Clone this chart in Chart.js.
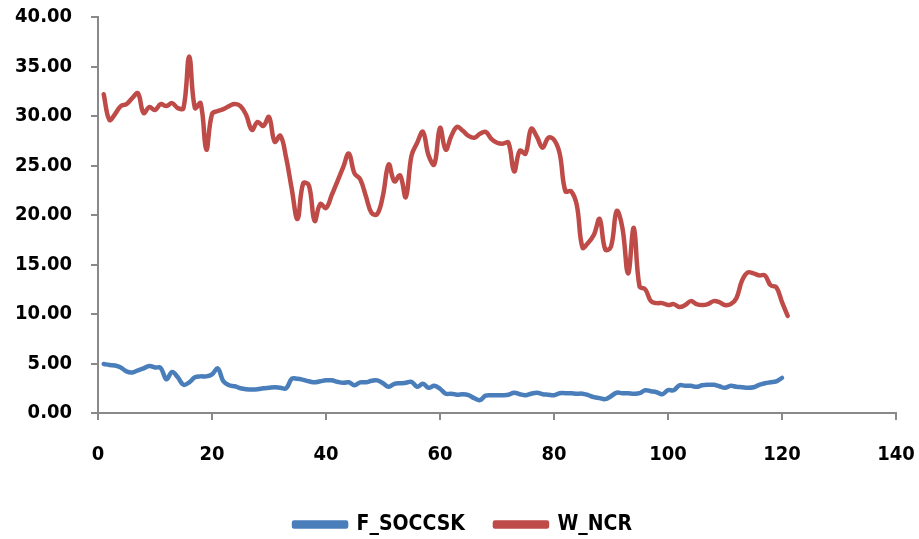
<!DOCTYPE html>
<html>
<head>
<meta charset="utf-8">
<script src="https://cdn.jsdelivr.net/npm/chart.js@4.4.0/dist/chart.umd.min.js"></script>
<style>
html, body { margin: 0; padding: 0; background: #fff; }
#wrap { width: 919px; height: 539px; }
</style>
</head>
<body>
<div id="wrap"><canvas id="chart" width="919" height="539"></canvas></div>
<script>
// series names and values (x runs 1, 2, 3 ...)
const seriesNames = ['F_SOCCSK', 'W_NCR'];
const seriesColors = ['#4A7EBB', '#BE4B48'];

const fSoccsk = [
    4.95, 4.85, 4.8, 4.6, 4.2, 4.1, 4.3, 4.5, 4.75, 4.6,
    4.55, 3.4, 4.15, 3.6, 2.85, 3.1, 3.6, 3.7, 3.7, 3.9,
    4.5, 3.2, 2.8, 2.7, 2.5, 2.4, 2.37, 2.4, 2.5, 2.55,
    2.6, 2.55, 2.5, 3.45, 3.45, 3.35, 3.2, 3.1, 3.2, 3.3,
    3.3, 3.15, 3.05, 3.1, 2.8, 3.1, 3.1, 3.25, 3.3, 3.0,
    2.65, 2.95, 3.0, 3.05, 3.15, 2.65, 2.95, 2.55, 2.75, 2.45,
    1.95, 1.95, 1.85, 1.9, 1.8, 1.5, 1.3, 1.75, 1.8, 1.8,
    1.8, 1.85, 2.05, 1.9, 1.8, 1.95, 2.05, 1.9, 1.85, 1.8,
    2.0, 2.0, 2.0, 1.95, 1.95, 1.8, 1.6, 1.5, 1.4, 1.7,
    2.05, 2.0, 2.0, 1.95, 2.0, 2.3, 2.2, 2.1, 1.9, 2.3,
    2.3, 2.8, 2.75, 2.75, 2.65, 2.8, 2.85, 2.85, 2.7, 2.55,
    2.75, 2.65, 2.6, 2.55, 2.6, 2.85, 3.0, 3.1, 3.2, 3.55
];

const wNcr = [
    32.2, 29.6, 30.2, 31.0, 31.2, 31.8, 32.3, 30.3, 30.9, 30.6,
    31.2, 31.0, 31.3, 30.8, 30.8, 36.0, 30.8, 31.3, 26.6, 30.2,
    30.5, 30.7, 31.0, 31.2, 31.0, 30.1, 28.6, 29.4, 29.0, 29.9,
    27.4, 28.0, 25.8, 22.6, 19.6, 23.2, 23.0, 19.4, 21.1, 20.7,
    22.0, 23.4, 24.8, 26.2, 24.2, 23.6, 21.9, 20.2, 20.1, 22.0,
    25.1, 23.4, 24.0, 21.8, 26.0, 27.3, 28.4, 26.0, 25.1, 28.8,
    26.6, 28.0, 28.9, 28.5, 28.0, 27.8, 28.2, 28.4, 27.7, 27.3,
    27.2, 27.3, 24.4, 26.5, 26.2, 28.7, 27.9, 26.8, 27.8, 27.6,
    26.2, 22.4, 22.4, 21.0, 16.7, 17.2, 18.0, 19.6, 16.5, 16.8,
    20.4, 18.7, 14.1, 18.7, 12.8, 12.5, 11.3, 11.1, 11.1, 10.9,
    11.0, 10.7, 10.9, 11.3, 11.0, 10.9, 11.0, 11.3, 11.2, 10.9,
    11.0, 11.6, 13.4, 14.2, 14.1, 13.9, 13.9, 12.9, 12.7, 11.2,
    9.8
];

const xMin = 0, xMax = 140, xStep = 20;
const yMin = 0, yMax = 40, yStep = 5;

const axisGrey = '#898989';
const labelFont = { family: 'DejaVu Sans Condensed', size: 20, weight: 'bold' };
const legendFont = { family: 'DejaVu Sans Condensed', size: 21, weight: 'bold' };

function toPoints(values) {
    return values.map((v, i) => ({ x: i + 1, y: v }));
}

const datasets = [fSoccsk, wNcr].map((vals, i) => ({
    label: seriesNames[i],
    data: toPoints(vals),
    borderColor: seriesColors[i],
    backgroundColor: seriesColors[i],
    borderWidth: 4.5,
    borderCapStyle: 'round',
    borderJoinStyle: 'round',
    pointRadius: 0,
    tension: 0.4,
    fill: false
}));

new Chart(document.getElementById('chart'), {
    type: 'line',
    data: { datasets },
    options: {
        responsive: false,
        animation: false,
        // left padding nudges the centred legend right; negative bottom keeps the legend row low
        layout: { padding: { top: 17, right: 0, bottom: -6, left: 7 } },
        plugins: {
            tooltip: { enabled: false },
            legend: {
                position: 'bottom',
                labels: {
                    color: '#000',
                    font: legendFont,
                    boxWidth: 52,
                    boxHeight: 4,
                    padding: 30
                }
            }
        },
        scales: {
            x: {
                type: 'linear',
                min: xMin, max: xMax,
                afterFit: (scale) => { scale.height = 71; scale.paddingLeft = 0; scale.paddingRight = 23; },
                ticks: { stepSize: xStep, color: '#000', font: labelFont, padding: 23, maxRotation: 0 },
                grid: { drawOnChartArea: false, drawTicks: true, tickLength: 7, color: axisGrey, lineWidth: 2 },
                border: { display: true, color: axisGrey, width: 2 }
            },
            y: {
                min: yMin, max: yMax,
                afterFit: (scale) => { scale.width = 91; scale.paddingTop = 0; scale.paddingBottom = 0; },
                ticks: { stepSize: yStep, color: '#000', font: labelFont, padding: 19,
                    callback: (v) => Number(v).toFixed(2) },
                grid: { drawOnChartArea: false, drawTicks: true, tickLength: 7, color: axisGrey, lineWidth: 2 },
                border: { display: true, color: axisGrey, width: 2 }
            }
        }
    }
});
</script>
</body>
</html>
